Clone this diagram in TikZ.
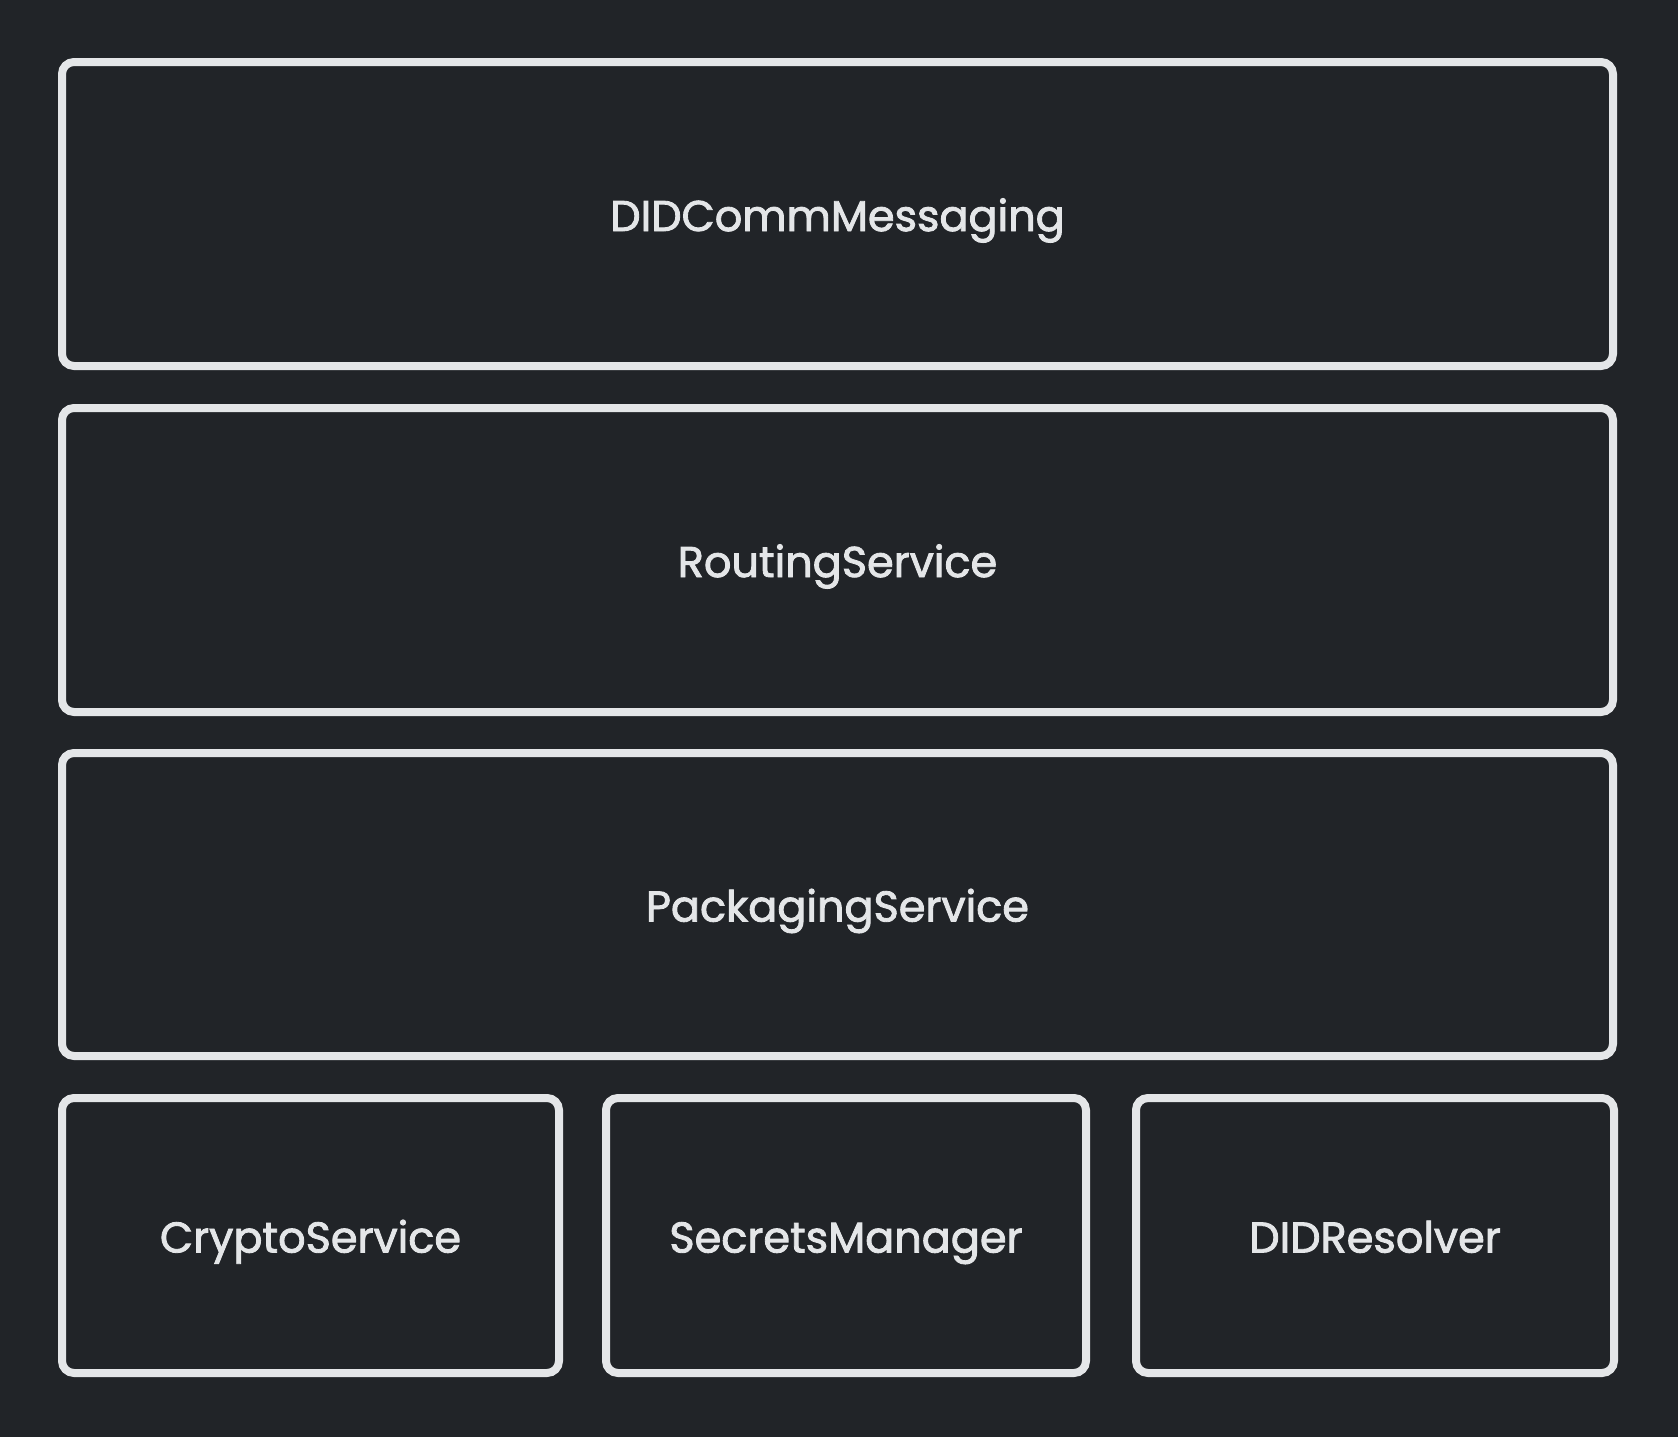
\documentclass[tikz,border=0pt]{standalone}
\usepackage{fontspec}
\setmainfont{Poppins}[FakeBold=2]
\definecolor{bgdark}{RGB}{33,36,40}
\definecolor{strokelight}{RGB}{228,230,232}

\tikzset{
    layer/.style={draw=strokelight, line width=4pt, rounded corners=6pt,
        rectangle, inner sep=0pt, outer sep=0pt, text=strokelight,
        text height=17pt, text depth=0pt,
        font=\fontsize{21.5}{26}\selectfont}
}

\begin{document}
\begin{tikzpicture}[x=0.5pt,y=-0.5pt]
    \fill[bgdark](0,0) rectangle (1678,1437);
    \useasboundingbox (0,0) rectangle (1678,1437);

    \node[layer, minimum width=775.5pt, minimum height=152pt] (messaging) at (837.5,214) {DIDCommMessaging};
    \node[layer, minimum width=775.5pt, minimum height=152pt] (routing) at (837.5,560) {RoutingService};
    \node[layer, minimum width=775.5pt, minimum height=151.5pt] (packaging) at (837.5,904.5) {PackagingService};

    \node[layer, minimum width=248.5pt, minimum height=137.5pt] (crypto) at (310.5,1235.5) {CryptoService};
    \node[layer, minimum width=240pt, minimum height=137.5pt] (secrets) at (846,1235.5) {SecretsManager};
    \node[layer, minimum width=239pt, minimum height=137.5pt] (resolver) at (1375,1235.5) {DIDResolver};
\end{tikzpicture}
\end{document}
